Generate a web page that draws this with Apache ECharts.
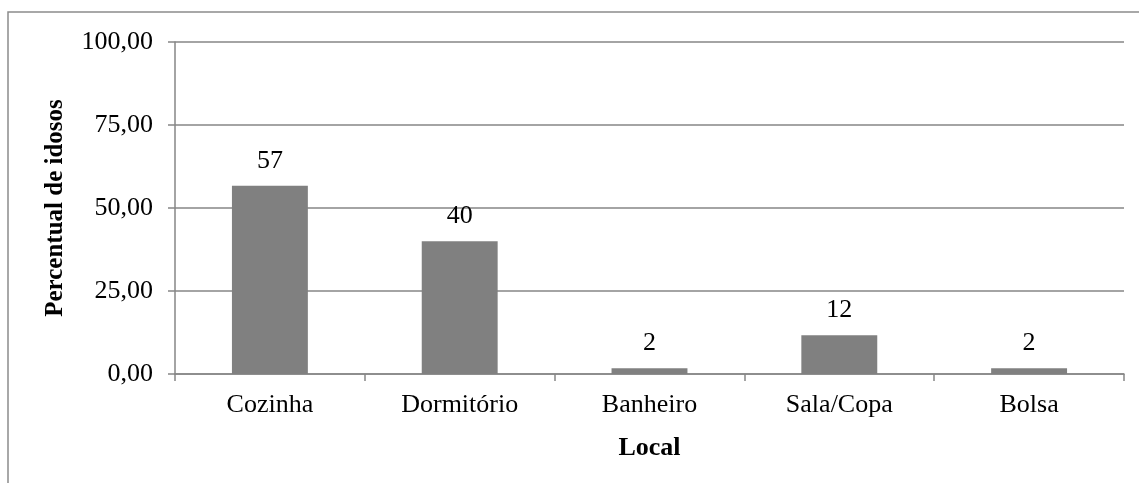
<!DOCTYPE html>
<html>
<head>
<meta charset="utf-8">
<script src="https://cdn.jsdelivr.net/npm/echarts@6/dist/echarts.min.js"></script>
<style>
  html, body { margin: 0; padding: 0; background: #fff; }
  #chart { width: 1139px; height: 483px; }
</style>
</head>
<body>
<div id="chart"></div>
<script>
// dados
var locais = ['Cozinha', 'Dormitório', 'Banheiro', 'Sala/Copa', 'Bolsa'];
var percentuais = [56.7, 40.0, 1.7, 11.7, 1.7];

var serif = '"Liberation Serif", "Times New Roman", serif';
var cinza = '#868686';

var chart = echarts.init(document.getElementById('chart'));

var option = {
    animation: false,
    graphic: [{
        type: 'rect',
        shape: { x: 8, y: 12, width: 1300, height: 600 },
        style: { fill: 'none', stroke: '#8c8c8c', lineWidth: 1.5 },
        silent: true
    }],
    grid: { left: 175, right: 15, top: 42, bottom: 109 },
    xAxis: {
        type: 'category',
        data: locais,
        name: 'Local',
        nameLocation: 'middle',
        nameGap: 61,
        nameTextStyle: { fontFamily: serif, fontWeight: 'bold', fontSize: 26, color: '#000' },
        axisLine: { lineStyle: { color: cinza, width: 1.5 } },
        axisTick: { show: true, length: 7, lineStyle: { color: cinza, width: 1.5 } },
        axisLabel: { fontFamily: serif, fontSize: 26, color: '#000', margin: 18 }
    },
    yAxis: {
        type: 'value',
        min: 0,
        max: 100,
        interval: 25,
        name: 'Percentual de idosos',
        nameLocation: 'middle',
        nameGap: 107,
        nameRotate: 90,
        nameTextStyle: { fontFamily: serif, fontWeight: 'bold', fontSize: 25, color: '#000' },
        axisLine: { show: true, lineStyle: { color: cinza, width: 1.5 } },
        axisTick: { show: true, length: 7, lineStyle: { color: cinza, width: 1.5 } },
        splitLine: { lineStyle: { color: cinza, width: 1.5 } },
        axisLabel: {
            fontFamily: serif, fontSize: 26, color: '#000', margin: 22,
            formatter: function (v) { return v.toFixed(2).replace('.', ','); }
        }
    },
    series: [{
        type: 'bar',
        data: percentuais,
        barWidth: '40%',
        itemStyle: { color: '#808080' },
        label: {
            show: true,
            position: 'top',
            distance: 12,
            fontFamily: serif,
            fontSize: 26,
            color: '#000',
            formatter: function (p) { return Math.round(p.value); }
        }
    }]
};

chart.setOption(option);
</script>
</body>
</html>
